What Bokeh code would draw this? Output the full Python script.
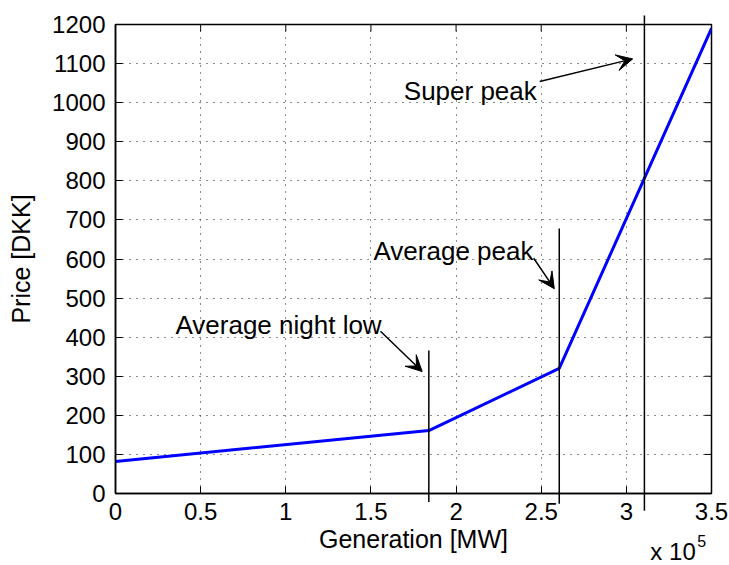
import math
from bokeh.plotting import figure
from bokeh.models import Range1d, FixedTicker, Arrow, VeeHead, Label, ColumnDataSource
from bokeh.core.properties import value
from bokeh.embed import file_html
from bokeh.resources import INLINE

# ---- data ----
generation = [0, 184000, 260600, 350000]          # MW
price = [82, 161, 320, 1190]                         # DKK

marker_names = ["Average night low", "Average peak", "Super peak"]
marker_x = [184000, 260600, 310600]
marker_top = [366, 678, 1223]
marker_bottom = [-22, -26, -44]

x_ticks = [0, 50000, 100000, 150000, 200000, 250000, 300000, 350000]
x_tick_labels = ["0", "0.5", "1", "1.5", "2", "2.5", "3", "3.5"]
y_ticks = list(range(0, 1201, 100))

X_MIN, X_MAX = 0, 350000
Y_MIN, Y_MAX = 0, 1200

FONT = "Liberation Sans"

p = figure(width=729, height=565, output_backend="svg", toolbar_location=None,
           x_range=Range1d(X_MIN, X_MAX), y_range=Range1d(Y_MIN, Y_MAX),
           min_border_left=115, min_border_right=18, min_border_top=24, min_border_bottom=72)
p.background_fill_color = "white"
p.border_fill_color = "white"
p.outline_line_color = "black"
p.outline_line_width = 1.5

p.xaxis.ticker = FixedTicker(ticks=x_ticks)
p.xaxis.major_label_overrides = {t: l for t, l in zip(x_ticks, x_tick_labels)}
p.yaxis.ticker = FixedTicker(ticks=y_ticks)
p.xaxis.axis_label = "Generation [MW]"
p.yaxis.axis_label = "Price [DKK]"

for ax in [p.xaxis[0], p.yaxis[0]]:
    ax.axis_line_color = "black"
    ax.axis_line_width = 1.5
    ax.major_tick_in = 7
    ax.major_tick_out = 0
    ax.major_tick_line_color = "black"
    ax.major_tick_line_width = 1
    ax.minor_tick_line_color = None
    ax.major_label_text_font = FONT
    ax.major_label_text_font_size = "24px"
    ax.major_label_text_color = "black"
    ax.axis_label_text_font = FONT
    ax.axis_label_text_font_size = "25px"
    ax.axis_label_text_font_style = "normal"
    ax.axis_label_text_color = "black"
p.xaxis.major_label_standoff = 9
p.yaxis.major_label_standoff = 10
p.xaxis.axis_label_standoff = 2
p.yaxis.axis_label_standoff = 14

p.xgrid.ticker = FixedTicker(ticks=x_ticks)
p.ygrid.ticker = FixedTicker(ticks=y_ticks)
p.grid.grid_line_color = "black"
p.grid.grid_line_width = 1
p.grid.grid_line_dash = "1 6"
p.grid.grid_line_alpha = 0.9

# mirrored inward ticks on the top and right edges (half of each dash is clipped by the frame)
p.scatter(x=x_ticks, y=[Y_MAX] * len(x_ticks), marker="dash", angle=math.pi / 2, size=14,
          line_color="black", line_width=1)
p.scatter(x=[X_MAX] * len(y_ticks), y=y_ticks, marker="dash", size=14,
          line_color="black", line_width=1)

# supply curve
p.line(generation, price, line_color="#0000ff", line_width=3)

# vertical markers (drawn unclipped)
src = ColumnDataSource(dict(x0=marker_x, y0=marker_bottom, x1=marker_x, y1=marker_top))
p.segment(x0="x0", y0="y0", x1="x1", y1="y1", source=src, line_color="black",
          line_width=1.5, level="overlay")

# annotation texts and arrows
label_pos = [(35200, 430), (151500, 620), (169300, 1031)]
arrow_pos = [((155600, 415), (180100, 312)),
             ((245600, 602), (257700, 524)),
             ((249100, 1054), (303700, 1112))]
for name, (lx, ly), ((ax0, ay0), (ax1, ay1)) in zip(marker_names, label_pos, arrow_pos):
    p.add_layout(Label(x=lx, y=ly, text=name, text_font=FONT, text_font_size="26px",
                       text_color="black", text_baseline="alphabetic"))
    p.add_layout(Arrow(x_start=ax0, y_start=ay0, x_end=ax1, y_end=ay1, line_width=1.5,
                       line_color="black",
                       end=VeeHead(size=16, fill_color="black", line_color="black", line_width=1)))

# exponent label (text glyphs drawn outside the frame, unclipped)
p.text(x=[314100], y=[-148], text=["x 10"], text_font=value(FONT), text_font_size=value("24px"),
       text_color="black", text_baseline="alphabetic", text_align="left", level="overlay")
p.text(x=[341600], y=[-121], text=["5"], text_font=value(FONT), text_font_size=value("16px"),
       text_color="black", text_baseline="alphabetic", text_align="left", level="overlay")

open("out.html", "w").write(file_html(p, INLINE))
